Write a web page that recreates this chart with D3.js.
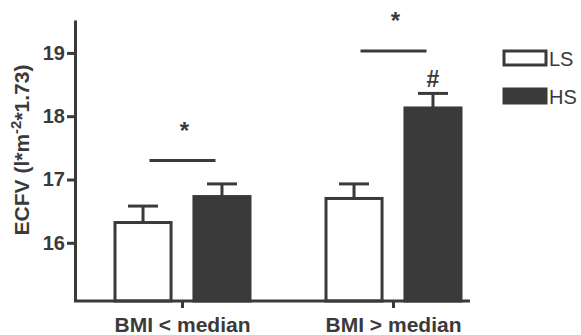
<!DOCTYPE html>
<html>
<head>
<meta charset="utf-8">
<script src="https://cdn.jsdelivr.net/npm/d3@7"></script>
<style>
  html, body { margin: 0; padding: 0; background: #fff; }
  svg { display: block; font-family: "Liberation Sans", Arial, Helvetica, sans-serif; }
</style>
</head>
<body>
<svg id="chart" width="581" height="335"></svg>
<script>
// ECFV by BMI group under low-salt (LS) and high-salt (HS) diets
const groups = ["BMI < median", "BMI > median"];
const conditions = ["LS", "HS"];
const meanLS = [16.32, 16.70];
const meanHS = [16.73, 18.13];
const semLS = [0.26, 0.23];
const semHS = [0.20, 0.23];
const yTicks = [16, 17, 18, 19];
// significance annotations: bar pairs over each group, "#" on HS bar in group 2
const sigLevel = [17.30, 19.03];
const hashGroup = [groups[1]];

const ink = "#3a3a3a";
const svg = d3.select("#chart");

const y = d3.scaleLinear().domain([15.08, 19.52]).range([301, 20]);
const x0 = d3.scaleBand().domain(groups).range([77, 499]);
const x1 = d3.scaleBand().domain(conditions).range([38, 173]).paddingInner(0.29);

const rows = groups.map((g, i) => [
  { g, c: "LS", v: meanLS[i], e: semLS[i] },
  { g, c: "HS", v: meanHS[i], e: semHS[i] }
]).flat();

// y axis
const yAxis = svg.append("g")
  .attr("transform", "translate(75,0)")
  .call(d3.axisLeft(y).tickValues(yTicks).tickFormat(d3.format("d")).tickSize(8).tickSizeOuter(0).tickPadding(2));
yAxis.select(".domain").attr("stroke", ink).attr("stroke-width", 3);
yAxis.selectAll(".tick line").attr("stroke", ink).attr("stroke-width", 3);
yAxis.selectAll(".tick text")
  .attr("fill", ink).attr("font-size", 20).attr("font-weight", "bold")
  .attr("font-family", "Liberation Sans, Arial, sans-serif");

// bars
const barG = svg.append("g");
barG.selectAll("rect").data(rows).join("rect")
  .attr("x", d => x0(d.g) + x1(d.c))
  .attr("y", d => y(d.v))
  .attr("width", x1.bandwidth())
  .attr("height", d => y.range()[0] - y(d.v))
  .attr("fill", d => d.c === "HS" ? ink : "#fff")
  .attr("stroke", ink)
  .attr("stroke-width", 3);

// error bars (upper only)
const errG = svg.append("g").attr("stroke", ink).attr("stroke-width", 3);
rows.forEach(d => {
  const cx = x0(d.g) + x1(d.c) + x1.bandwidth() / 2;
  errG.append("line").attr("x1", cx).attr("x2", cx).attr("y1", y(d.v)).attr("y2", y(d.v + d.e));
  errG.append("line").attr("x1", cx - 15).attr("x2", cx + 15).attr("y1", y(d.v + d.e)).attr("y2", y(d.v + d.e));
});

// x axis
const xAxis = svg.append("g")
  .attr("transform", `translate(0,${y.range()[0]})`)
  .call(d3.axisBottom(x0).tickSize(7).tickSizeOuter(0).tickPadding(9));
xAxis.select(".domain").remove();
xAxis.insert("line", ":first-child")
  .attr("x1", 74).attr("x2", 470).attr("y1", 0).attr("y2", 0)
  .attr("stroke", ink).attr("stroke-width", 3);
xAxis.selectAll(".tick line").attr("stroke", ink).attr("stroke-width", 3);
xAxis.selectAll(".tick text")
  .attr("fill", ink).attr("font-size", 21).attr("font-weight", "bold")
  .attr("font-family", "Liberation Sans, Arial, sans-serif");

// significance bars and stars
const sigG = svg.append("g");
groups.forEach((g, i) => {
  const cx = x0(g) + x0.bandwidth() / 2;
  sigG.append("line")
    .attr("x1", cx - 33).attr("x2", cx + 33)
    .attr("y1", y(sigLevel[i])).attr("y2", y(sigLevel[i]))
    .attr("stroke", ink).attr("stroke-width", 3);
  sigG.append("text")
    .attr("x", cx + 2).attr("y", y(sigLevel[i]) - 22)
    .attr("text-anchor", "middle").attr("font-size", 24).attr("font-weight", "bold")
    .attr("fill", ink).text("*");
});
hashGroup.forEach(g => {
  const d = rows.find(r => r.g === g && r.c === "HS");
  sigG.append("text")
    .attr("x", x0(g) + x1("HS") + x1.bandwidth() / 2)
    .attr("y", y(d.v + d.e) - 6)
    .attr("text-anchor", "middle").attr("font-size", 23).attr("font-weight", "bold")
    .attr("fill", ink).text("#");
});

// y title
const title = svg.append("text")
  .attr("transform", "translate(29,150) rotate(-90)")
  .attr("text-anchor", "middle")
  .attr("font-size", 21).attr("font-weight", "bold").attr("fill", ink);
title.append("tspan").text("ECFV (l*m");
title.append("tspan").attr("font-size", 15).attr("dy", -8).text("-2");
title.append("tspan").attr("dy", 8).text("*1.73)");

// legend
const leg = svg.append("g");
conditions.forEach((c, i) => {
  const ly = 51 + i * 38;
  leg.append("rect")
    .attr("x", 504).attr("y", ly).attr("width", 42).attr("height", 14)
    .attr("fill", c === "HS" ? ink : "#fff")
    .attr("stroke", ink).attr("stroke-width", 3);
  leg.append("text")
    .attr("x", 549).attr("y", ly + 15)
    .attr("font-size", 20).attr("fill", ink).text(c);
});
</script>
</body>
</html>
